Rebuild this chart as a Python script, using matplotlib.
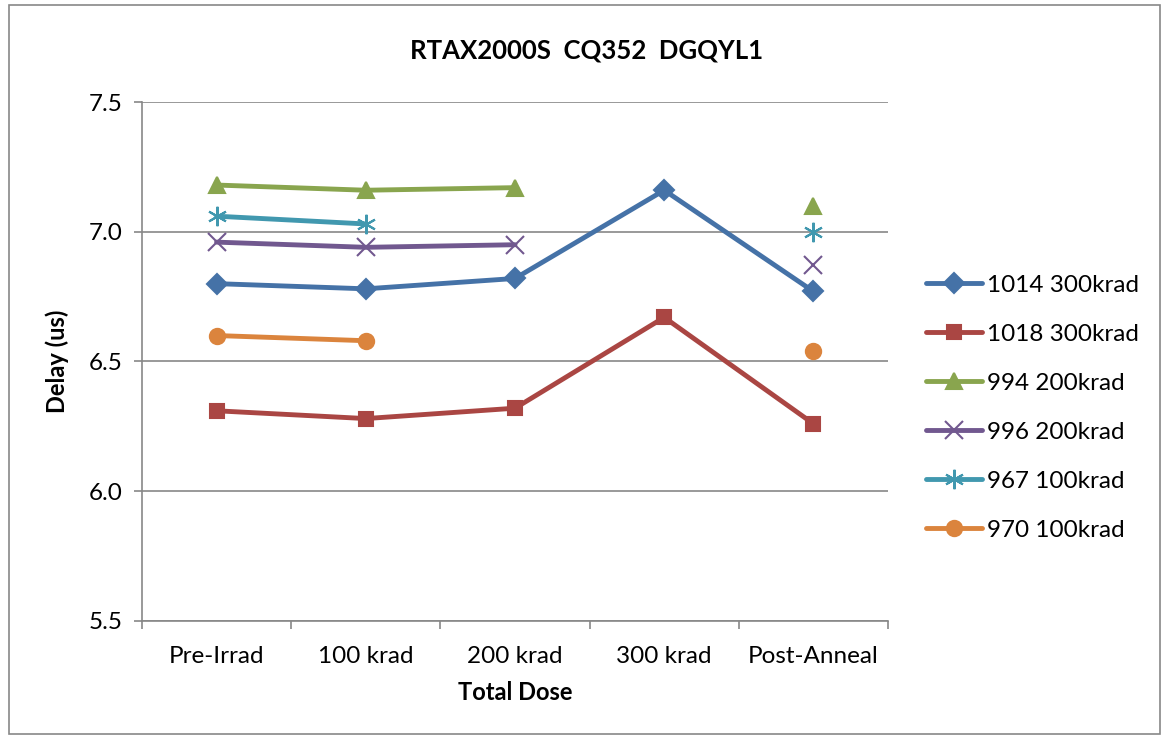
import numpy as np
import matplotlib
matplotlib.use("Agg")
import matplotlib.pyplot as plt
from matplotlib.patches import Rectangle

plt.rcParams['font.family'] = ['Lato', 'DejaVu Sans']

categories = ["Pre-Irrad", "100 krad", "200 krad", "300 krad", "Post-Anneal"]
s1014 = [6.80, 6.78, 6.82, 7.16, 6.77]
s1018 = [6.31, 6.28, 6.32, 6.67, 6.26]
s994 = [7.18, 7.16, 7.17, np.nan, 7.10]
s996 = [6.96, 6.94, 6.95, np.nan, 6.87]
s967 = [7.06, 7.03, np.nan, np.nan, 7.00]
s970 = [6.60, 6.58, np.nan, np.nan, 6.54]

series = [
    ("1014 300krad", s1014, "#4572A7", "D", 10, 1.5),
    ("1018 300krad", s1018, "#AA4643", "s", 10, 1.5),
    ("994 200krad", s994, "#89A54E", "^", 11, 1.5),
    ("996 200krad", s996, "#71588F", "x", 13, 1.5),
    ("967 100krad", s967, "#4198AF", (6, 2, 0), 14, 1.5),
    ("970 100krad", s970, "#DB843D", "o", 11, 1.5),
]

fig = plt.figure(figsize=(11.62, 7.36), dpi=100)
ax = fig.add_axes([0.1222, 0.1563, 0.6420, 0.7051])

x = np.arange(len(categories))
for name, vals, col, mk, ms, mew in series:
    ax.plot(x, vals, color=col, lw=3.5, marker=mk, markersize=ms,
            markeredgewidth=mew, markeredgecolor=col, markerfacecolor=col,
            label=name, solid_capstyle='round')

ax.set_xlim(-0.5, len(categories) - 0.5)
ax.set_ylim(5.5, 7.5)
ax.set_yticks([5.5, 6.0, 6.5, 7.0, 7.5])
ax.set_yticklabels(["5.5", "6.0", "6.5", "7.0", "7.5"])
ax.set_xticks(x)
ax.set_xticklabels(categories)
ax.set_xticks(np.arange(-0.5, len(categories)), minor=True)
ax.tick_params(axis='x', which='major', length=0, pad=18, labelsize=17.5)
ax.tick_params(axis='x', which='minor', length=6, color='#878787', width=1.2)
ax.tick_params(axis='y', length=6, color='#878787', width=1.2, labelsize=17.5, pad=8)
ax.yaxis.grid(True, color='#878787', lw=1.2)
ax.set_axisbelow(True)
for s in ['top', 'right']:
    ax.spines[s].set_visible(False)
for s in ['left', 'bottom']:
    ax.spines[s].set_color('#878787')
    ax.spines[s].set_linewidth(1.2)

ax.set_xlabel("Total Dose", fontsize=17, fontweight='bold', labelpad=10)
ax.set_ylabel("Delay (us)", fontsize=17, fontweight='bold', labelpad=14)
fig.text(0.505, 0.932, "RTAX2000S  CQ352  DGQYL1", ha='center', va='center',
         fontsize=18.5, fontweight='bold')

leg = fig.legend(loc='center left', bbox_to_anchor=(0.778, 0.446), frameon=False,
                 fontsize=17.5, handlelength=2.3, labelspacing=1.15, handletextpad=0.2)

fig.patches.append(Rectangle((0.008, 0.003), 0.99, 0.99, transform=fig.transFigure,
                             fill=False, edgecolor='#888888', lw=1.2))

fig.savefig("out.png", dpi=100)
